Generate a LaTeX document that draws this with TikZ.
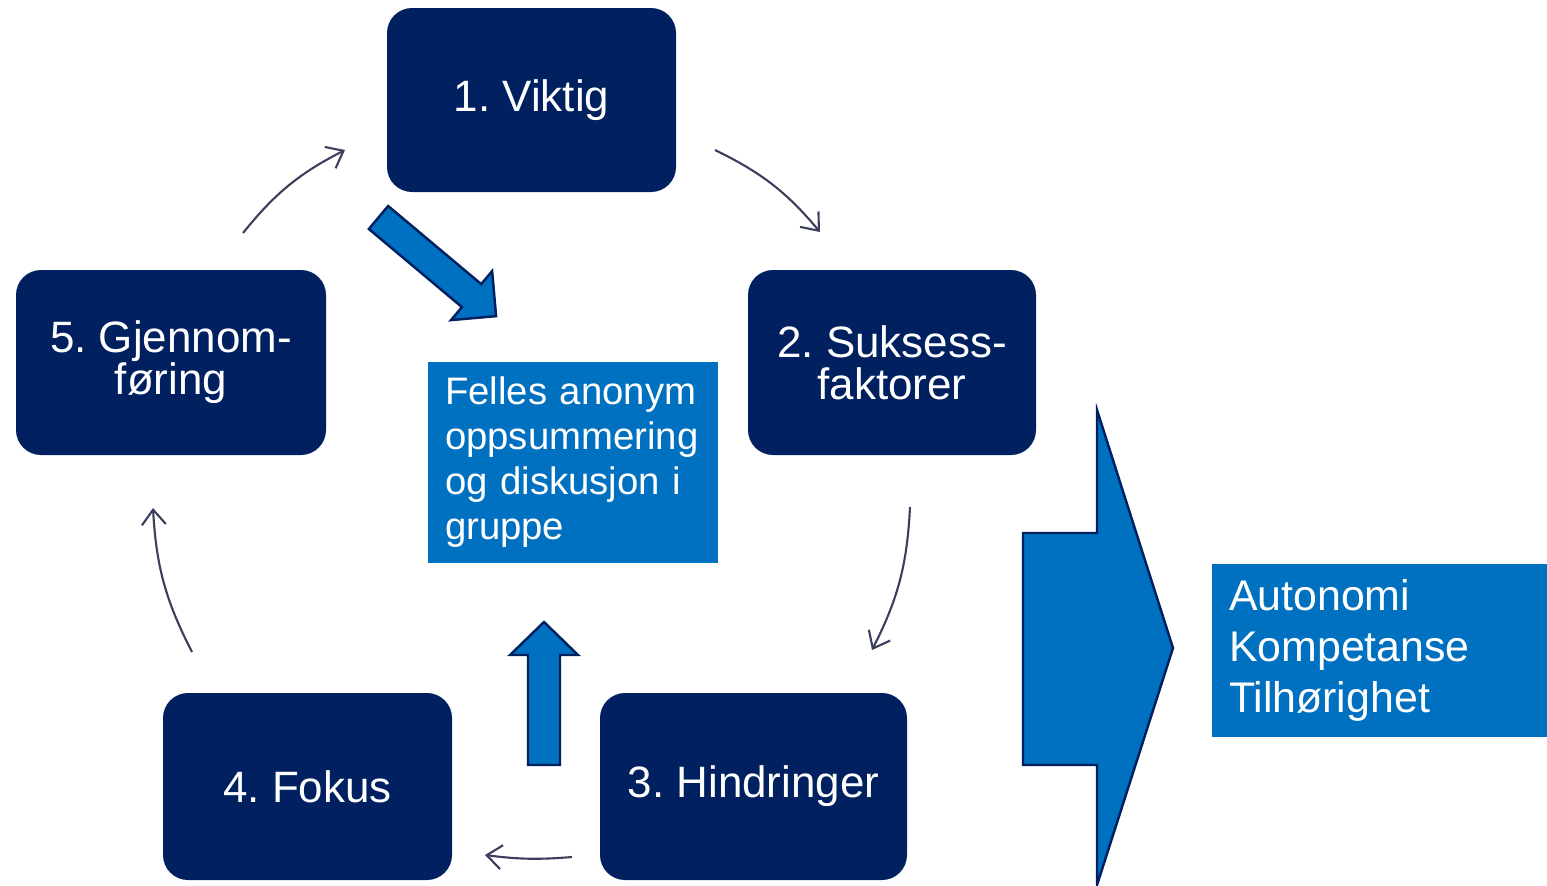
\documentclass[tikz,border=0pt]{standalone}
\usepackage{fontspec}
\setmainfont{Liberation Sans}
\usepackage{xcolor}
\usepackage{tikz}
\usetikzlibrary{calc, arrows.meta, positioning}
\frenchspacing

\definecolor{morkbla}{HTML}{002060}
\definecolor{lysbla}{HTML}{0070C0}
\definecolor{pilgra}{HTML}{3C3F5C}

\begin{document}
\begin{tikzpicture}[>={Straight Barb[length=1.5mm,width=2.4mm]},
    trinn/.style={fill=morkbla, rounded corners=0.25cm, text=white, align=center,
        font=\fontsize{12.5}{12}\selectfont, inner sep=0pt},
    info/.style={fill=lysbla, text=white, align=left, inner xsep=0.17cm, inner ysep=0pt},
    tynnpil/.style={->, draw=pilgra, line width=0.6pt},
    blokkpil/.style={fill=lysbla, draw=morkbla, line width=0.7pt}]
    % Ramme med samme proporsjoner som originalen
    \useasboundingbox (0,0) rectangle (15.47,8.85);

    % De fem trinnene i syklusen
    \node[trinn, minimum width=2.89cm, minimum height=1.84cm] (viktig) at (5.315,7.85) {1. Viktig};
    \node[trinn, minimum width=2.88cm, minimum height=1.85cm] (suksess) at (8.92,5.225) {2. Suksess-\\faktorer};
    \node[trinn, minimum width=3.07cm, minimum height=1.87cm] (hindringer) at (7.535,0.985) {3. Hindringer};
    \node[trinn, minimum width=2.89cm, minimum height=1.87cm] (fokus) at (3.075,0.985) {4. Fokus};
    \node[trinn, minimum width=3.10cm, minimum height=1.85cm] (gjennom) at (1.71,5.225) {5. Gjennom-\\føring};

    % Felles oppsummering i midten
    \node[info, minimum width=2.90cm, minimum height=2.01cm, text width=2.56cm,
        font=\fontsize{10.9}{12.8}\selectfont] (felles) at (5.73,4.225)
        {Felles anonym\\oppsummering\\og diskusjon i\\gruppe};

    % Resultatboksen til høyre
    \node[info, minimum width=3.35cm, minimum height=1.73cm, text width=3.01cm,
        font=\fontsize{12.2}{14.5}\selectfont] (resultat) at (13.795,2.345)
        {Autonomi\\Kompetanse\\Tilhørighet};

    % Endepunkter for de tynne pilene
    \coordinate (p1a) at (2.43,6.52);  \coordinate (p1b) at (3.45,7.35);
    \coordinate (p2a) at (7.15,7.35);  \coordinate (p2b) at (8.20,6.53);
    \coordinate (p3a) at (9.10,3.78);  \coordinate (p3b) at (8.72,2.35);
    \coordinate (p4a) at (5.72,0.28);  \coordinate (p4b) at (4.85,0.30);
    \coordinate (p5a) at (1.92,2.33);  \coordinate (p5b) at (1.53,3.77);

    % Tynne piler rundt syklusen
    \draw[tynnpil] (p1a) to[bend left=12] (p1b);
    \draw[tynnpil] (p2a) to[bend left=12] (p2b);
    \draw[tynnpil] (p3a) to[bend left=12] (p3b);
    \draw[tynnpil] (p4a) to[bend left=6] (p4b);
    \draw[tynnpil] (p5a) to[bend left=12] (p5b);

    % Blokkpil fra trinn 1 mot midten
    \begin{scope}[shift={(3.785,6.675)}, rotate=-40]
        \filldraw[blokkpil] (0,0.15) -- (1.215,0.15) -- (1.215,0.32) -- (1.535,0)
            -- (1.215,-0.32) -- (1.215,-0.15) -- (0,-0.15) -- cycle;
    \end{scope}

    % Blokkpil oppover mot midten
    \filldraw[blokkpil] (5.28,1.20) -- (5.28,2.30) -- (5.10,2.30) -- (5.44,2.63)
        -- (5.78,2.30) -- (5.60,2.30) -- (5.60,1.20) -- cycle;

    % Stor pil mot resultatet
    \filldraw[blokkpil] (10.23,1.20) -- (10.23,3.52) -- (10.97,3.52) -- (10.97,4.75)
        -- (11.73,2.37) -- (10.97,0) -- (10.97,1.20) -- cycle;
\end{tikzpicture}
\end{document}
